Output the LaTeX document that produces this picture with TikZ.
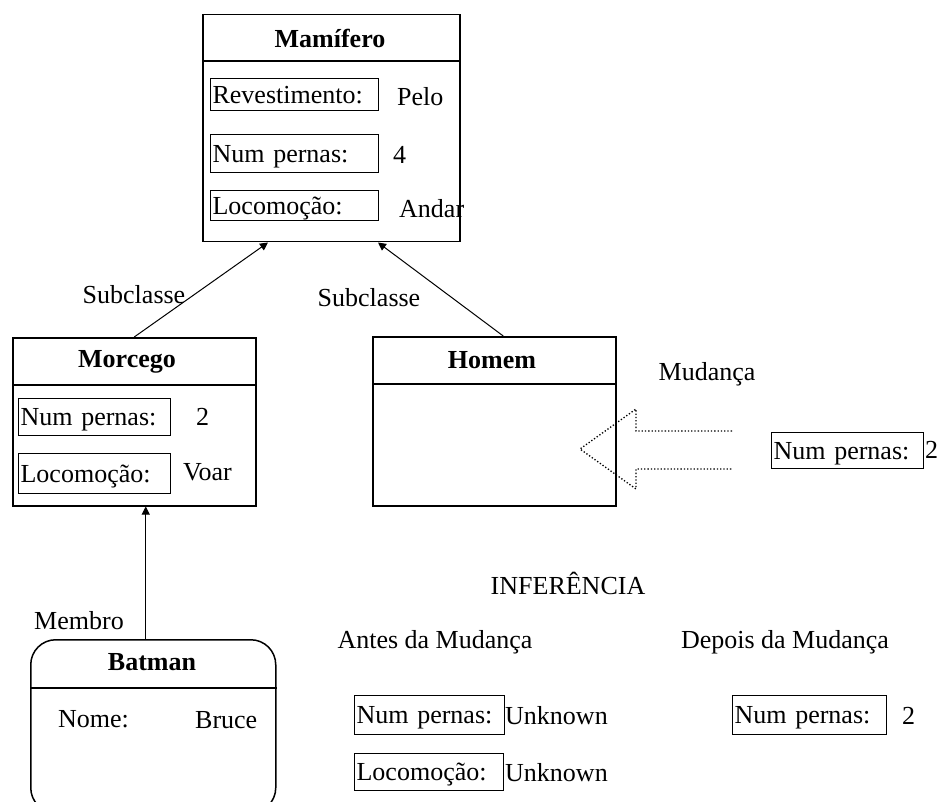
\documentclass[tikz,border=0pt]{standalone}
\usepackage{fontspec}
\setmainfont{Liberation Serif}
\usetikzlibrary{arrows.meta,positioning}

\tikzset{
  txt/.style={font=\fontsize{26}{30}\selectfont, inner sep=0pt},
  title/.style={font=\fontsize{26}{30}\selectfont\bfseries, inner sep=0pt},
  val/.style={txt, anchor=west},
  classbox/.style={draw, line width=1.5pt, anchor=north west, inner sep=0pt},
  sep/.style={line width=1.5pt},
  fieldbox/.style 2 args={draw, line width=1.2pt, anchor=north west,
    inner xsep=2pt, inner ysep=0pt, text width=#1, minimum height=#2,
    text depth=0pt, align=left, font=\fontsize{26}{30}\selectfont},
  link/.style={line width=1pt, -{Triangle[length=8pt,width=8pt]}},
  change/.style={line width=1.3pt, dotted},
}

\begin{document}
\begin{tikzpicture}[x=1pt,y=-1pt]
\useasboundingbox (0,0) rectangle (937,802);
\clip (0,0) rectangle (937,802);

% Mamifero
\node[classbox, minimum width=257pt, minimum height=227pt] (mamifero) at (202,14) {};
\draw[sep] (mamifero.west |- 0,61) -- (mamifero.east |- 0,61);
\node[title] (mamName) at (330,38) {Mamífero};
\node[fieldbox={164pt}{32pt}] (mamRev) at (210,78) {Revestimento:};
\node[val] (mamRevVal) at (397,97) {Pelo};
\node[fieldbox={164pt}{38pt}] (mamNum) at (210,134) {Num pernas:};
\node[val] (mamNumVal) at (393,155) {4};
\node[fieldbox={164pt}{30pt}] (mamLoc) at (210,190) {Locomoção:};
\node[val] (mamLocVal) at (399,209) {Andar};

% Morcego
\node[classbox, minimum width=243pt, minimum height=168pt] (morcego) at (12,337) {};
\draw[sep] (morcego.west |- 0,385) -- (morcego.east |- 0,385);
\node[title] (morName) at (127,362) {Morcego};
\node[fieldbox={148pt}{37pt}] (morNum) at (18,398) {Num pernas:};
\node[val] (morNumVal) at (196,417) {2};
\node[fieldbox={148pt}{40pt}] (morLoc) at (18,453) {Locomoção:};
\node[val] (morLocVal) at (183,472) {Voar};

% Homem
\node[classbox, minimum width=243pt, minimum height=169pt] (homem) at (372,336) {};
\draw[sep] (homem.west |- 0,384) -- (homem.east |- 0,384);
\node[title] (homName) at (492,360) {Homem};

% Batman
\node[classbox, rounded corners=25pt, minimum width=245pt, minimum height=173pt] (batman) at (30,639) {};
\draw[sep] (batman.west |- 0,688) -- (batman.east |- 0,688);
\node[title] (batName) at (152,662) {Batman};
\node[val] (batNome) at (58,719) {Nome:};
\node[val] (batNomeVal) at (195,720) {Bruce};

% ligacoes
\draw[link] (morcego.north) -- ([xshift=66pt]mamifero.south west);
\draw[link] ([xshift=9pt]homem.north) -- ([xshift=176pt]mamifero.south west);
\draw[link] ([xshift=-7.5pt]batman.north) -- ([xshift=11.5pt]morcego.south);
\node[txt] (subL) at (134,295) {Subclasse};
\node[txt] (subR) at (369,298) {Subclasse};
\node[txt] (membro) at (79,621) {Membro};

% mudanca
\node[txt] (mudanca) at (707,374) {Mudança};
\draw[change] (732,431) -- (636,431) -- (636,409) -- (580,449)
  -- (636,489) -- (636,469) -- (732,469);
\node[fieldbox={148pt}{36pt}] (mudNum) at (771,432) {Num pernas:};
\node[val] (mudNumVal) at (925,450) {2};

% inferencia
\node[txt] (inferencia) at (568,583) {INFERÊNCIA};
\node[txt] (antes) at (435,642) {Antes da Mudança};
\node[txt] (depois) at (785,642) {Depois da Mudança};
\node[fieldbox={146pt}{39pt}] (antNum) at (354,695) {Num pernas:};
\node[val] (antNumVal) at (505,716) {Unknown};
\node[fieldbox={145pt}{37pt}] (antLoc) at (354,753) {Locomoção:};
\node[val] (antLocVal) at (505,773) {Unknown};
\node[fieldbox={150pt}{39pt}] (depNum) at (732,695) {Num pernas:};
\node[val] (depNumVal) at (902,716) {2};
\end{tikzpicture}
\end{document}
